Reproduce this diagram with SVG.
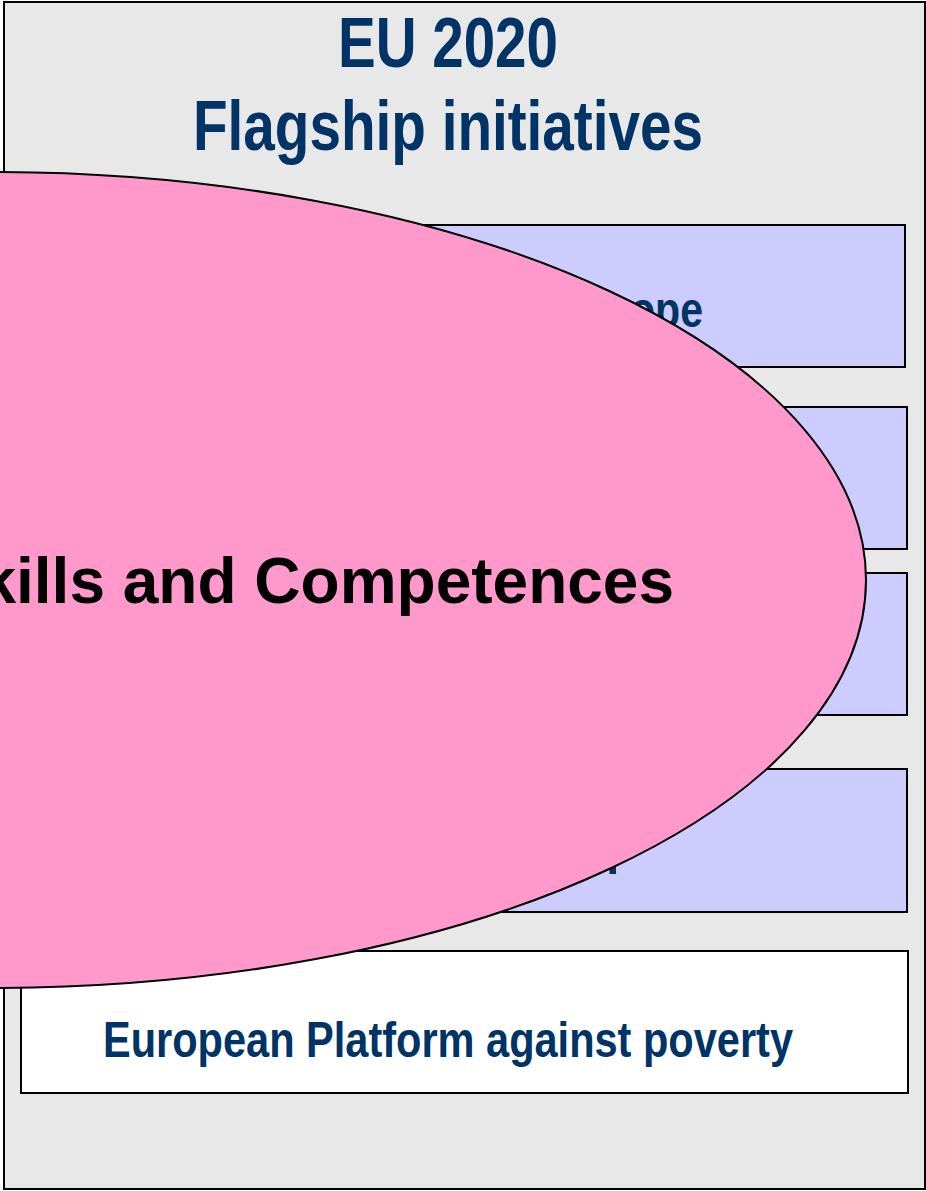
<svg xmlns="http://www.w3.org/2000/svg" width="926" height="1191" viewBox="0 0 926 1191">
<style>
.box{stroke:#000;stroke-width:2}
.lav{fill:#ccccff}
.navy{fill:#003366;font-family:"Liberation Sans Narrow","Liberation Sans",Arial,sans-serif;font-weight:bold}
.big{fill:#000;font-family:"Liberation Sans",Arial,sans-serif;font-weight:bold;font-size:64px}
</style>
<defs>
<clipPath id="frag"><rect x="596" y="864" width="20" height="14"/></clipPath>
</defs>
<g id="frame">
<rect x="4" y="2" width="921" height="1187" fill="#e8e8e8" stroke="#000" stroke-width="2"/>
</g>
<g id="title">
<text class="navy" x="448" y="67" font-size="70" text-anchor="middle" textLength="220" lengthAdjust="spacingAndGlyphs">EU 2020</text>
<text class="navy" x="448" y="150" font-size="70" text-anchor="middle" textLength="510" lengthAdjust="spacingAndGlyphs">Flagship initiatives</text>
</g>
<g id="box1">
<rect class="box lav" x="21" y="225" width="884" height="142"/>
<text class="navy" x="703" y="327" font-size="50" text-anchor="end" textLength="73" lengthAdjust="spacingAndGlyphs">ope</text>
</g>
<g id="box2">
<rect class="box lav" x="21" y="407" width="886" height="142"/>
</g>
<g id="box3">
<rect class="box lav" x="21" y="573" width="886" height="142"/>
</g>
<g id="box4">
<rect class="box lav" x="21" y="769" width="886" height="143"/>
<text class="navy" x="606" y="864" font-size="50" clip-path="url(#frag)">p</text>
</g>
<g id="box5">
<rect class="box" fill="#fff" x="21" y="951" width="887" height="142"/>
<text class="navy" x="448" y="1057" font-size="50" text-anchor="middle" textLength="690" lengthAdjust="spacingAndGlyphs">European Platform against poverty</text>
</g>
<g id="skills">
<ellipse cx="-7" cy="580" rx="873" ry="408" fill="#ff99cc" stroke="#000" stroke-width="2"/>
<text class="big" x="674" y="603" text-anchor="end">kills and Competences</text>
</g>
<g id="connectors"/>
</svg>
